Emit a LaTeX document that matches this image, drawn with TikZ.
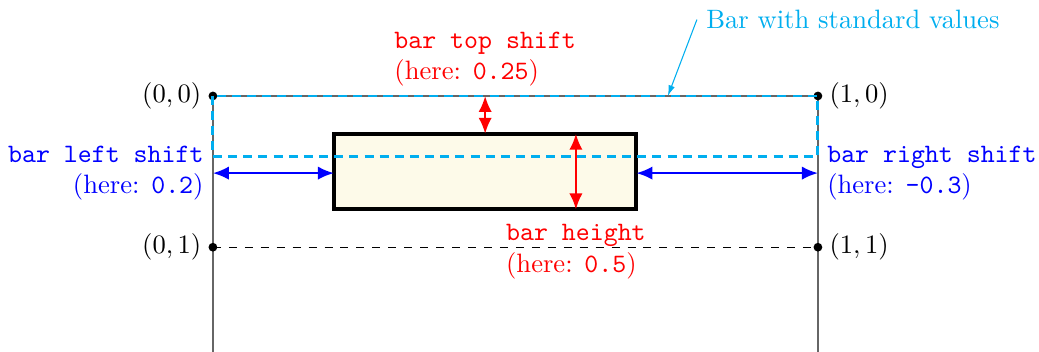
\documentclass[tikz,border=0pt]{standalone}
\usepackage{tikz}
\usetikzlibrary{arrows.meta,positioning}
\definecolor{stdcyan}{RGB}{0,174,239}
\definecolor{barfill}{RGB}{253,250,233}

\begin{document}
\begin{tikzpicture}[
  x=8cm, y=-2cm,
  dot/.style={circle, fill, inner sep=0pt, minimum size=3.3pt},
  stdbar/.style={stdcyan, line width=1.1pt, dash pattern=on 3.4pt off 2.3pt},
  dimarrow/.style={{Latex[length=6pt,width=5pt]}-{Latex[length=6pt,width=5pt]}, thick}
]
\useasboundingbox (-80.1pt,36.1pt) rectangle (310.8pt,-96.3pt);

% 枠
\draw[black!60, line width=0.6pt] (0,1.72) -- (0,0) -- (1,0) -- (1,1.72);
\draw[dashed] (0,1) -- (1,1);

% 角の点
\node[dot] (p00) at (0,0) {};
\node[dot] (p10) at (1,0) {};
\node[dot] (p01) at (0,1) {};
\node[dot] (p11) at (1,1) {};
\node[left=-1pt of p00] {$(0,0)$};
\node[right=-1pt of p10] {$(1,0)$};
\node[left=-1pt of p01] {$(0,1)$};
\node[right=-1pt of p11] {$(1,1)$};

% バー
\coordinate (bartl) at (0.2,0.25);
\coordinate (barbr) at (0.7,0.75);
\draw[line width=1.5pt, fill=barfill] (bartl) rectangle (barbr);

% 標準のバー
\coordinate (stdtl) at (0,0);
\coordinate (stdbr) at (1,0.4);
\draw[stdbar] (stdtl) rectangle (stdbr);
\node[stdcyan, anchor=west] (stdlabel) at (0.8,-0.505) {Bar with standard values};
\coordinate (stdpoint) at (0.752,0);
\draw[stdcyan, -{Latex[length=4pt,width=2.5pt]}] (stdlabel.west) -- (stdpoint);

% 矢印
\coordinate (topa) at (0.45,0);
\coordinate (topb) at (0.45,0.25);
\coordinate (hgta) at (0.6,0.25);
\coordinate (hgtb) at (0.6,0.75);
\coordinate (lefta) at (0,0.51);
\coordinate (leftb) at (0.2,0.51);
\coordinate (righta) at (0.7,0.51);
\coordinate (rightb) at (1,0.51);
\draw[dimarrow, red] (topa) -- (topb);
\draw[dimarrow, red] (hgta) -- (hgtb);
\draw[dimarrow, blue] (lefta) -- (leftb);
\draw[dimarrow, blue] (righta) -- (rightb);

% ラベル
\node[red, align=left, above=0pt of topa] (toplabel) {\texttt{bar top shift}\\(here: \texttt{0.25})};
\node[red, align=left, below=2pt of hgtb] (hgtlabel) {\texttt{bar height}\\(here: \texttt{0.5})};
\node[blue, align=right, left=0pt of lefta] (leftlabel) {\texttt{bar left shift}\\(here: \texttt{0.2})};
\node[blue, align=left, right=0pt of rightb] (rightlabel) {\texttt{bar right shift}\\(here: \texttt{-0.3})};

\end{tikzpicture}
\end{document}
